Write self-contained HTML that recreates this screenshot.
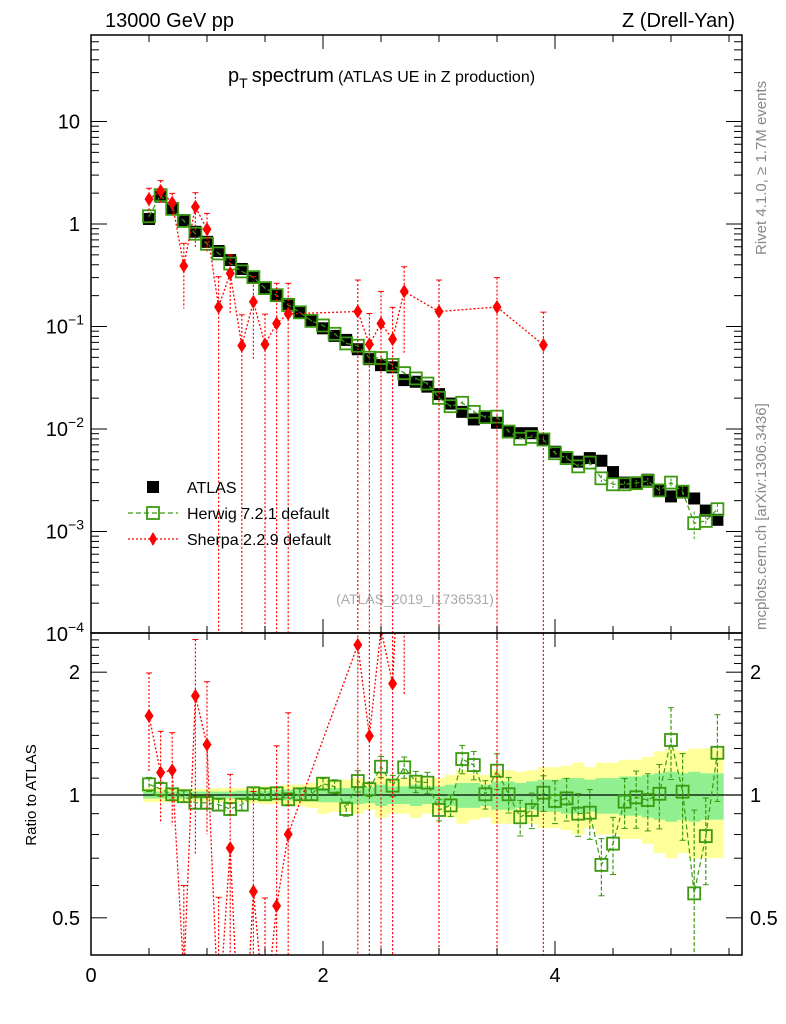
<!DOCTYPE html>
<html><head><meta charset="utf-8"><style>
html,body{margin:0;padding:0;width:786px;height:1024px;overflow:hidden;background:#fff}
svg{display:block;position:absolute;left:0;top:0;font-family:"Liberation Sans",sans-serif}
</style></head><body>
<svg id="c" width="786" height="1024" viewBox="0 0 786 1024">
<defs>
<clipPath id="cm"><rect x="91" y="35" width="651" height="598"/></clipPath>
<clipPath id="cr"><rect x="91" y="633" width="651" height="322"/></clipPath>
</defs>
<text x="105" y="27" font-size="20">13000 GeV pp</text>
<text x="735" y="27" font-size="20" text-anchor="end">Z (Drell-Yan)</text>
<text x="228" y="82" font-size="20">p<tspan font-size="14" dy="6">T</tspan><tspan dy="-6" dx="4">spectrum</tspan><tspan font-size="16" dx="4">(ATLAS UE in Z production)</tspan></text>
<text transform="translate(766,255) rotate(-90)" font-size="15" fill="#888">Rivet 4.1.0, ≥ 1.7M events</text>
<text transform="translate(766,630) rotate(-90)" font-size="15" fill="#888">mcplots.cern.ch [arXiv:1306.3436]</text>
<text x="415" y="604" font-size="14" fill="#aaa" text-anchor="middle">(ATLAS_2019_I1736531)</text>
<text transform="translate(36,795) rotate(-90)" font-size="15" text-anchor="middle">Ratio to ATLAS</text>
<g id="bands" clip-path="url(#cr)"></g>
<g id="ratio" clip-path="url(#cr)"></g>
<g id="main" clip-path="url(#cm)"></g>
<g id="axes"></g>
<g>
<rect x="147" y="481" width="12" height="12" fill="#000"/>
<text x="187" y="493" font-size="16">ATLAS</text>
<line x1="128" y1="513" x2="178" y2="513" stroke="#3a9a10" stroke-dasharray="5,3" stroke-width="1.3"/>
<rect x="147" y="507" width="12" height="12" fill="none" stroke="#3a9a10" stroke-width="1.8"/>
<text x="187" y="519" font-size="16">Herwig 7.2.1 default</text>
<line x1="128" y1="539" x2="178" y2="539" stroke="#f00" stroke-dasharray="2,2" stroke-width="1.3"/>
<polygon points="153,532 157,539 153,546 149,539" fill="#f00"/>
<text x="187" y="545" font-size="16">Sherpa 2.2.9 default</text>
</g>
</svg>
<script>
const atlasX=[0.5,0.6,0.7,0.8,0.9,1.0,1.1,1.2,1.3,1.4,1.5,1.6,1.7,1.8,1.9,2.0,2.1,2.2,2.3,2.4,2.5,2.6,2.7,2.8,2.9,3.0,3.1,3.2,3.3,3.4,3.5,3.6,3.7,3.8,3.9,4.0,4.1,4.2,4.3,4.4,4.5,4.6,4.7,4.8,4.9,5.0,5.1,5.2,5.3,5.4];
const atlasY=[1.12,1.85,1.4,1.08,0.84,0.67,0.545,0.445,0.364,0.30,0.236,0.2,0.166,0.137,0.113,0.096,0.081,0.074,0.06,0.048,0.042,0.040,0.030,0.0289,0.0259,0.0219,0.0177,0.0147,0.0124,0.0130,0.0115,0.0094,0.0091,0.0091,0.0078,0.0060,0.0053,0.0048,0.0052,0.0049,0.0038,0.0030,0.0030,0.0032,0.0025,0.0022,0.0024,0.0021,0.0016,0.0013];
const atlasTot=[0.04,0.04,0.04,0.035,0.035,0.035,0.04,0.04,0.04,0.045,0.05,0.05,0.06,0.06,0.07,0.1,0.09,0.09,0.1,0.08,0.12,0.1,0.1,0.12,0.1,0.1,0.12,0.15,0.13,0.12,0.15,0.15,0.14,0.15,0.17,0.17,0.18,0.2,0.17,0.2,0.2,0.22,0.22,0.24,0.28,0.3,0.28,0.3,0.3,0.3];
const atlasStat=[0.02,0.02,0.02,0.02,0.02,0.02,0.02,0.02,0.025,0.025,0.025,0.03,0.03,0.03,0.035,0.04,0.04,0.04,0.05,0.045,0.06,0.05,0.05,0.06,0.05,0.05,0.06,0.07,0.07,0.06,0.08,0.08,0.07,0.08,0.09,0.09,0.1,0.1,0.09,0.1,0.1,0.11,0.11,0.12,0.13,0.14,0.13,0.14,0.13,0.13];
const herwigRatio=[1.062,1.034,1.004,0.993,0.957,0.957,0.947,0.924,0.947,1.01,1.004,1.01,0.976,1.004,1.004,1.066,1.048,0.924,1.082,1.033,1.173,1.054,1.169,1.078,1.072,0.919,0.943,1.225,1.184,1.004,1.147,1.004,0.882,0.919,1.013,0.967,0.981,0.9,0.905,0.674,0.76,0.963,0.987,0.972,1.007,1.364,1.019,0.574,0.793,1.269];
const herwigErr=[0.02,0.02,0.015,0.015,0.015,0.015,0.015,0.015,0.015,0.015,0.015,0.015,0.015,0.015,0.015,0.015,0.02,0.02,0.03,0.02,0.03,0.03,0.03,0.03,0.03,0.03,0.03,0.04,0.04,0.04,0.05,0.05,0.05,0.05,0.05,0.06,0.06,0.06,0.07,0.08,0.08,0.07,0.08,0.08,0.09,0.1,0.12,0.3,0.12,0.12];
const sherpaX=[0.5,0.6,0.7,0.8,0.9,1.0,1.1,1.2,1.3,1.4,1.5,1.6,1.7,2.3,2.4,2.5,2.6,2.7,3.0,3.5,3.9];
const sherpaY=[1.75,2.1,1.61,0.39,1.47,0.89,0.155,0.33,0.065,0.174,0.067,0.107,0.133,0.14,0.067,0.107,0.075,0.22,0.14,0.155,0.066];
const sherpaHi=[2.23,2.65,1.99,0.648,2.02,1.27,0.306,0.5,0.13,0.306,0.132,0.264,0.264,0.284,0.134,0.22,0.154,0.383,0.284,0.3,0.138];
const sherpaLo=[1.27,1.59,1.18,0.15,0.6,0.537,0,0.134,0,0.047,0,0,0,0,0,0,0,0.053,0,0,0];
const xTicks=[0,2,4];
const mainTicks=[{v:10,t:"10"},{v:1,t:"1"},{v:0.1,t:"10",e:"−1"},{v:0.01,t:"10",e:"−2"},{v:0.001,t:"10",e:"−3"},{v:0.0001,t:"10",e:"−4"}];
const ratioTicks=[2,1,0.5];

const NS="http://www.w3.org/2000/svg";
const X0=91,X1=742,MT=35,MB=633,RT=633,RB=955;
const px=v=>X0+v*116;
const py=v=>224-102.5*Math.log10(v);
const ry=v=>795-408*Math.log10(v);
function el(p,tag,a){const e=document.createElementNS(NS,tag);for(const k in a)e.setAttribute(k,a[k]);p.appendChild(e);return e;}
const gB=document.getElementById('bands'),gR=document.getElementById('ratio'),gM=document.getElementById('main'),gA=document.getElementById('axes');
const halfW=i=>{const a=i>0?atlasX[i]-atlasX[i-1]:atlasX[1]-atlasX[0];return a/2;};

atlasX.forEach((x,i)=>{
  const w=halfW(i);
  const y=el(gB,'rect',{x:px(x-w),y:ry(1+atlasTot[i]),width:px(x+w)-px(x-w)+0.5,height:ry(1-atlasTot[i])-ry(1+atlasTot[i]),fill:'#ffff99'});
  
  
});
atlasX.forEach((x,i)=>{
  const w=halfW(i);
  const g=el(gB,'rect',{x:px(x-w),y:ry(1+atlasStat[i]),width:px(x+w)-px(x-w)+0.5,height:ry(1-atlasStat[i])-ry(1+atlasStat[i]),fill:'#90f090'});
  
  
});
el(gB,'line',{x1:X0,x2:X1,y1:ry(1),y2:ry(1),stroke:'#000','stroke-width':1.3});

function diamond(p,x,y,name){const d=el(p,'polygon',{points:`${x},${y-7} ${x+4.5},${y} ${x},${y+7} ${x-4.5},${y}`,fill:'#f00'});

}
function square(p,x,y,fill,stroke,name){const s=el(p,'rect',{x:x-6,y:y-6,width:12,height:12,fill:fill,stroke:stroke,'stroke-width':fill==='none'?1.8:0});

}

atlasX.forEach((x,i)=>{square(gM,px(x),py(atlasY[i]),'#000','none','atlas-point');});
const hwY=atlasY.map((v,i)=>v*herwigRatio[i]);
el(gM,'polyline',{points:atlasX.map((x,i)=>px(x)+','+py(hwY[i])).join(' '),fill:'none',stroke:'#3a9a10','stroke-dasharray':'5,3','stroke-width':1.2});
atlasX.forEach((x,i)=>{
  el(gM,'line',{x1:px(x),x2:px(x),y1:py(hwY[i]*(1+herwigErr[i])),y2:py(hwY[i]*(1-herwigErr[i])),stroke:'#3a9a10','stroke-dasharray':'3,2'});
  square(gM,px(x),py(hwY[i]),'none','#3a9a10','herwig-point');
});
el(gM,'polyline',{points:sherpaX.map((x,i)=>px(x)+','+py(sherpaY[i])).join(' '),fill:'none',stroke:'#f00','stroke-dasharray':'2,2','stroke-width':1.3});
sherpaX.forEach((x,i)=>{
  const lo=sherpaLo[i]>0?py(sherpaLo[i]):MB;
  el(gM,'line',{x1:px(x),x2:px(x),y1:py(sherpaHi[i]),y2:lo,stroke:'#f00','stroke-dasharray':'2,2','stroke-width':1.2});
  el(gM,'line',{x1:px(x)-3,x2:px(x)+3,y1:py(sherpaHi[i]),y2:py(sherpaHi[i]),stroke:'#f00'});
  diamond(gM,px(x),py(sherpaY[i]),'sherpa-point');
});

el(gR,'polyline',{points:atlasX.map((x,i)=>px(x)+','+ry(herwigRatio[i])).join(' '),fill:'none',stroke:'#3a9a10','stroke-dasharray':'5,3','stroke-width':1.2});
atlasX.forEach((x,i)=>{
  const r=herwigRatio[i],e=herwigErr[i]*r*2;
  el(gR,'line',{x1:px(x),x2:px(x),y1:ry(r+e),y2:ry(Math.max(r-e,0.05)),stroke:'#3a9a10','stroke-dasharray':'4,2','stroke-width':1.2});
  el(gR,'line',{x1:px(x)-3,x2:px(x)+3,y1:ry(r+e),y2:ry(r+e),stroke:'#3a9a10'});
  el(gR,'line',{x1:px(x)-3,x2:px(x)+3,y1:ry(r-e),y2:ry(r-e),stroke:'#3a9a10'});
  square(gR,px(x),ry(r),'none','#3a9a10','herwig-ratio-point');
});
const atlasAt=x=>atlasY[atlasX.findIndex(a=>Math.abs(a-x)<1e-6)];
const shR=sherpaX.map((x,i)=>sherpaY[i]/atlasAt(x));
el(gR,'polyline',{points:sherpaX.map((x,i)=>px(x)+','+ry(shR[i])).join(' '),fill:'none',stroke:'#f00','stroke-dasharray':'2,2','stroke-width':1.3});
sherpaX.forEach((x,i)=>{
  const a=atlasAt(x);
  const hi=ry(sherpaHi[i]/a),lo=sherpaLo[i]>0?ry(sherpaLo[i]/a):RB;
  el(gR,'line',{x1:px(x),x2:px(x),y1:hi,y2:lo,stroke:'#f00','stroke-dasharray':'2,2','stroke-width':1.2});
  el(gR,'line',{x1:px(x)-3,x2:px(x)+3,y1:hi,y2:hi,stroke:'#f00'});
  diamond(gR,px(x),ry(shR[i]),'sherpa-ratio-point');
});

const f1=el(gA,'rect',{x:X0,y:MT,width:X1-X0,height:MB-MT,fill:'none',stroke:'#000','stroke-width':1.5});


const f2=el(gA,'rect',{x:X0,y:RT,width:X1-X0,height:RB-RT,fill:'none',stroke:'#000','stroke-width':1.5});


for(let k=0;k<=11;k++){
  const v=k*0.5,x=px(v);if(x>X1)break;
  const L=(k%4===0)?14:7;
  [[MT,1],[MB,-1],[RT,1],[RB,-1]].forEach(([y,d])=>el(gA,'line',{x1:x,x2:x,y1:y,y2:y+d*L,stroke:'#000'}));
}
xTicks.forEach(v=>{const t=el(gA,'text',{x:px(v),y:RB+27,'font-size':20,'text-anchor':'middle'});t.textContent=v;

});
for(let d=-4;d<=1;d++){for(let m=1;m<10;m++){const v=m*Math.pow(10,d),y=py(v);if(y<MT||y>MB)continue;
 const L=m===1?16:8;
 el(gA,'line',{x1:X0,x2:X0+L,y1:y,y2:y,stroke:'#000'});el(gA,'line',{x1:X1,x2:X1-L,y1:y,y2:y,stroke:'#000'});}}
mainTicks.forEach(o=>{const t=el(gA,'text',{x:80,y:py(o.v)+7,'font-size':20,'text-anchor':'end'});
 if(o.e){t.innerHTML=o.t+'<tspan font-size="14" dy="-9">'+o.e+'</tspan>';t.setAttribute('x',84);}else t.textContent=o.t;
 
 });
[0.5,0.6,0.7,0.8,0.9,1,1.1,1.2,1.3,1.4,1.5,1.6,1.7,1.8,1.9,2,2.1,2.2,2.3,2.4].forEach(v=>{const y=ry(v);if(y<RT||y>RB)return;
 const L=(v===1||v===2||v===0.5)?16:8;
 el(gA,'line',{x1:X0,x2:X0+L,y1:y,y2:y,stroke:'#000'});el(gA,'line',{x1:X1,x2:X1-L,y1:y,y2:y,stroke:'#000'});});
ratioTicks.forEach(v=>{
 const t=el(gA,'text',{x:80,y:ry(v)+7,'font-size':20,'text-anchor':'end'});t.textContent=v;
 
 
 const t2=el(gA,'text',{x:750,y:ry(v)+7,'font-size':20});t2.textContent=v;
 
 });
</script>
</body></html>
